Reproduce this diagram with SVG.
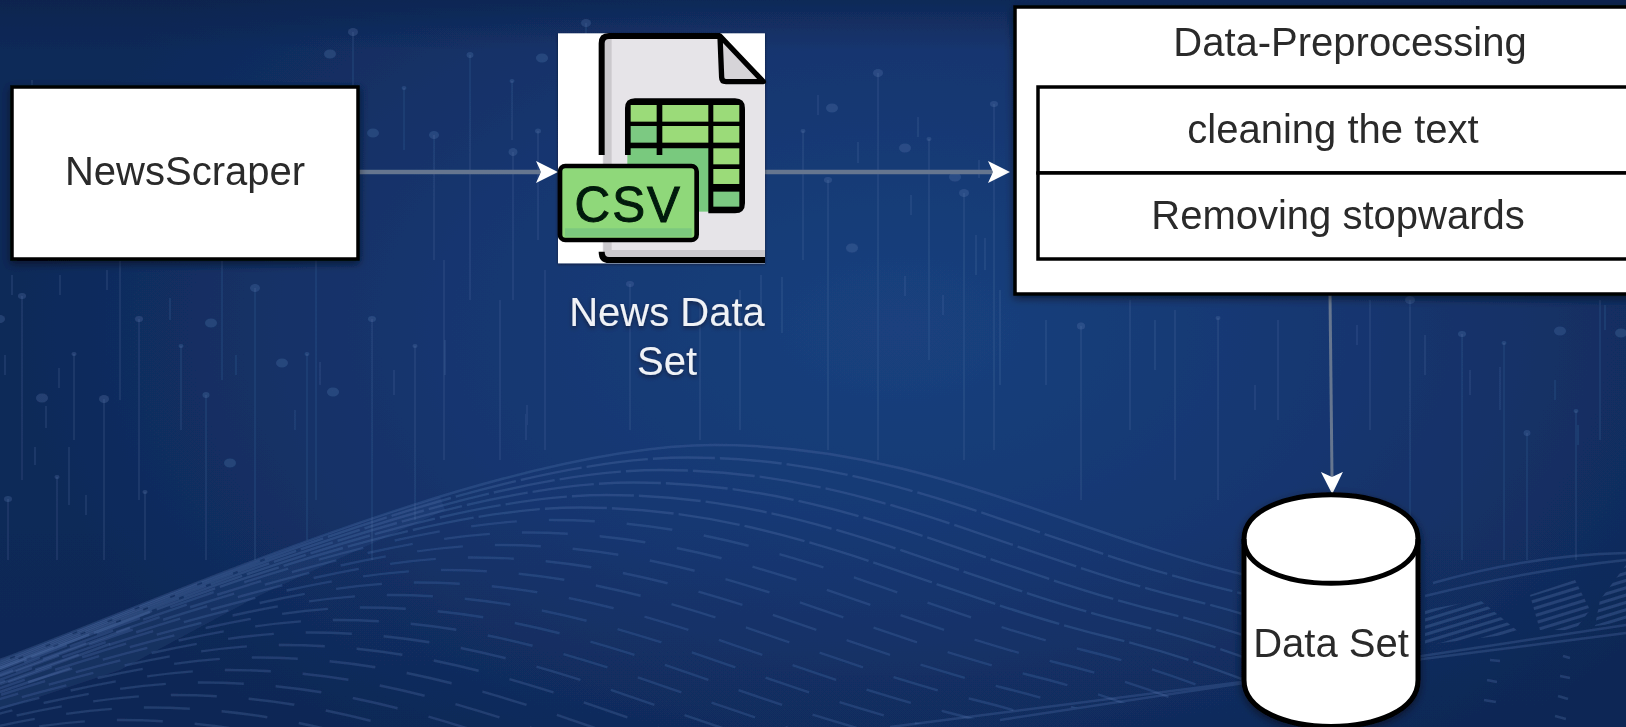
<svg xmlns="http://www.w3.org/2000/svg" width="1626" height="727" viewBox="0 0 1626 727">
<style>
text{font-family:"Liberation Sans",Arial,sans-serif;font-size:40px;fill:#2a2a2a;text-anchor:middle}
.light{fill:#f0f2f6;filter:url(#ts)}
.box{fill:#fff;stroke:#000;stroke-width:3.5}
.shadow{filter:url(#sh)}
.v{stroke:#5f7fb4;stroke-width:1.6;opacity:.2;fill:none}
.s{stroke:#5f7fb4;stroke-width:2;opacity:.16}
.dot{fill:#5f7fb4;opacity:.27}
.wa{fill:none;stroke:#5577b0;stroke-width:2.4;opacity:.3;stroke-dasharray:62 5}
.wb{fill:none;stroke:#5577b0;stroke-width:2.4;opacity:.27;stroke-dasharray:46 32}
.edge{fill:none;stroke:#5577b0;stroke-width:2.5;opacity:.28}
.conn{fill:none;stroke:#66768f;stroke-width:4.5;marker-end:url(#ah)}
</style>
<defs>
<radialGradient id="bg" gradientUnits="userSpaceOnUse" cx="900" cy="330" r="900" gradientTransform="translate(0 130) scale(1 .6)">
<stop offset="0" stop-color="#1a417e"/><stop offset=".5" stop-color="#163670"/><stop offset="1" stop-color="#0f2958"/>
</radialGradient>
<linearGradient id="topd" x1="0" y1="0" x2="0" y2="1"><stop offset="0" stop-color="#0b1f45" stop-opacity=".5"/><stop offset="1" stop-color="#0b1f45" stop-opacity="0"/></linearGradient>
<linearGradient id="botd" x1="0" y1="0" x2="0" y2="1"><stop offset="0" stop-color="#0b1f45" stop-opacity="0"/><stop offset="1" stop-color="#0b1f45" stop-opacity=".2"/></linearGradient>
<filter id="soft" filterUnits="userSpaceOnUse" x="0" y="0" width="1626" height="727"><feGaussianBlur stdDeviation=".6"/></filter>
<filter id="sh" x="-10%" y="-10%" width="120%" height="125%"><feDropShadow dx="0" dy="3" stdDeviation="4" flood-color="#000" flood-opacity=".5"/></filter>
<filter id="ts" x="-10%" y="-20%" width="120%" height="150%"><feDropShadow dx="0" dy="2" stdDeviation="2" flood-color="#000" flood-opacity=".45"/></filter>
<marker id="ah" markerUnits="userSpaceOnUse" markerWidth="24" markerHeight="26" viewBox="0 0 24 26" refX="5" refY="13" orient="auto"><path d="M0,2 L22,13 L0,24 L5,13Z" fill="#fff"/></marker>
<clipPath id="wc"><path d="M0,660 C150,605 500,445 715,445 C920,445 1060,530 1245,575 L1245,690 L890,727 L0,727Z"/></clipPath>
<pattern id="hatch" patternUnits="userSpaceOnUse" width="7" height="7" patternTransform="rotate(-17)"><rect width="7" height="3" fill="#5577b0" opacity=".45"/></pattern>
<path id="w" d="M-400,800 C-200,745 -100,695 0,660 C150,605 500,445 715,445 C920,445 1060,530 1245,575 S1500,690 1800,760"/>
</defs>
<g filter="url(#soft)">
<g id="background">
<rect width="1626" height="727" fill="url(#bg)"/>
<rect width="1626" height="50" fill="url(#topd)"/>
<rect y="520" width="1626" height="207" fill="url(#botd)"/>
<g class="lines">
<path class="v" d="M22,296V480M139,319V500M74,354V440M104,399V560M181,346V430M206,395V560M255,288V560M307,354V540M372,319V560M415,346V520M57,477V560M145,492V560M8,499V560M878,73V460M803,131V260M929,139V360M828,180V450M994,104V450M964,193V460M353,32V250M586,23V110M470,55V300M434,135V260M513,152V300M538,131V240M404,88V150M512,81V140M630,284V430M1081,326V500M1218,318V500M1410,300V530M1462,334V560M1504,343V560M1527,433V560M1576,411V560M32,80V250M120,260V400M222,260V380M316,260V500M444,260V460M500,300V460M545,270V450M700,300V440M740,290V430M1130,300V430M1175,310V480M1278,320V420M1370,300V430M1600,300V440"/>
<path class="s" d="M12,275V295M60,275V295M107,270V290M170,298V320M5,355V375M59,368V388M46,406V428M35,447V465M69,447V505M86,495V515M236,355V375M295,410V430M320,362V385M394,370V395M527,405V425M445,340V375M526,414V440M761,275V330M782,277V333M905,276V296M943,295V315M818,95V115M858,142V163M911,195V215M918,117V137M979,160V178M976,235V275M985,238V270M1000,290V385M1046,320V385M1155,320V370M1255,385V410M1357,325V345M1425,335V375M1470,370V395M1500,367V410M1555,380V400M1578,425V445M1605,305V330"/>
<g class="dot">
<ellipse cx="22" cy="296" rx="4" ry="3"/><ellipse cx="139" cy="319" rx="4" ry="3"/><ellipse cx="74" cy="354" rx="2.5" ry="2"/><ellipse cx="104" cy="399" rx="5" ry="4"/><ellipse cx="181" cy="346" rx="2.5" ry="2"/><ellipse cx="206" cy="395" rx="3.5" ry="3"/><ellipse cx="255" cy="288" rx="5" ry="4"/><ellipse cx="307" cy="354" rx="2.5" ry="2"/><ellipse cx="372" cy="319" rx="4" ry="3"/><ellipse cx="415" cy="346" rx="2.5" ry="2"/><ellipse cx="57" cy="477" rx="2.5" ry="2"/><ellipse cx="145" cy="492" rx="2.5" ry="2"/><ellipse cx="8" cy="499" rx="4" ry="3"/><ellipse cx="878" cy="73" rx="5" ry="4"/><ellipse cx="803" cy="131" rx="2.5" ry="2"/><ellipse cx="929" cy="139" rx="2.5" ry="2"/><ellipse cx="828" cy="180" rx="4" ry="3"/><ellipse cx="994" cy="104" rx="4" ry="3"/><ellipse cx="964" cy="193" rx="5" ry="4"/><ellipse cx="353" cy="32" rx="5" ry="4"/><ellipse cx="586" cy="23" rx="5" ry="4"/><ellipse cx="470" cy="55" rx="3.5" ry="3"/><ellipse cx="434" cy="135" rx="5" ry="4"/><ellipse cx="513" cy="152" rx="4.5" ry="4"/><ellipse cx="538" cy="131" rx="3" ry="2.5"/><ellipse cx="404" cy="88" rx="2.5" ry="2"/><ellipse cx="512" cy="81" rx="2.5" ry="2"/><ellipse cx="630" cy="284" rx="4" ry="3"/><ellipse cx="1081" cy="326" rx="4" ry="3.5"/><ellipse cx="1218" cy="318" rx="2.5" ry="2"/><ellipse cx="1410" cy="300" rx="5" ry="4"/><ellipse cx="1462" cy="334" rx="4" ry="3"/><ellipse cx="1504" cy="343" rx="2.5" ry="2"/><ellipse cx="1527" cy="433" rx="3.5" ry="3"/><ellipse cx="1576" cy="411" rx="2.5" ry="2"/>
<ellipse cx="211" cy="323" rx="6" ry="4.5"/><ellipse cx="42" cy="398" rx="6" ry="4.5"/><ellipse cx="282" cy="363" rx="6" ry="4.5"/><ellipse cx="333" cy="392" rx="6" ry="4.5"/><ellipse cx="230" cy="463" rx="6" ry="4.5"/><ellipse cx="0" cy="319" rx="5" ry="4"/><ellipse cx="832" cy="108" rx="6" ry="4.5"/><ellipse cx="905" cy="148" rx="6" ry="4.5"/><ellipse cx="955" cy="177" rx="6" ry="4.5"/><ellipse cx="852" cy="248" rx="6" ry="4.5"/><ellipse cx="330" cy="54" rx="6" ry="4.5"/><ellipse cx="542" cy="58" rx="6" ry="4.5"/><ellipse cx="373" cy="133" rx="6" ry="4.5"/><ellipse cx="1560" cy="331" rx="6" ry="4.5"/><ellipse cx="1621" cy="333" rx="6" ry="4.5"/>
</g>
</g>
<g id="wave">
<path class="edge" d="M0,660 C150,605 500,445 715,445 C920,445 1060,530 1245,575"/>
<g clip-path="url(#wc)">
<path d="M0,640 L250,540 L430,470 L445,510 L260,595 L120,670 L0,710Z" fill="#5577b0" opacity=".13"/>
<use href="#w" class="wa" transform="translate(-27 12.5)"/><use href="#w" class="wa" transform="translate(-54 25)"/><use href="#w" class="wa" transform="translate(-81 37.5)"/><use href="#w" class="wa" transform="translate(-108 50)"/><use href="#w" class="wa" transform="translate(-135 62.5)"/><use href="#w" class="wb" transform="translate(-162 75)"/><use href="#w" class="wb" transform="translate(-189 87.5)"/><use href="#w" class="wb" transform="translate(-216 100)"/><use href="#w" class="wb" transform="translate(-243 112.5)"/><use href="#w" class="wb" transform="translate(-270 125)"/><use href="#w" class="wb" transform="translate(-297 137.5)"/><use href="#w" class="wb" transform="translate(-324 150)"/><use href="#w" class="wb" transform="translate(-351 162.5)"/><use href="#w" class="wb" transform="translate(-378 175)"/><use href="#w" class="wb" transform="translate(-405 187.5)"/><use href="#w" class="wb" transform="translate(-432 200)"/><use href="#w" class="wb" transform="translate(-459 212.5)"/><use href="#w" class="wb" transform="translate(-486 225)"/><use href="#w" class="wb" transform="translate(-513 237.5)"/><use href="#w" class="wb" transform="translate(-540 250)"/><use href="#w" class="wb" transform="translate(-567 262.5)"/><use href="#w" class="wb" transform="translate(-594 275)"/>
</g>
<path class="edge" d="M0,668 L150,612M0,676 L130,628M0,684 L110,644M0,692 L70,668M890,727 L1626,633M1000,720 L1626,625M1433,583 Q1530,555 1626,553M1425,596 Q1530,570 1626,560"/>
<path d="M1425,610 L1480,600 L1520,633 L1425,645Z M1530,595 L1575,580 L1590,610 L1575,630 L1540,630Z M1600,600 L1626,565 L1626,622 L1595,626Z" fill="url(#hatch)" opacity=".7"/>
<path class="edge" stroke-dasharray="12 14" d="M1490,660L1500,661M1487,680L1497,682M1484,700L1496,702M1563,656L1570,658M1560,676L1570,678M1558,696L1568,699M1555,716L1566,719"/>
</g>
</g>
<g id="connectors">
<path class="conn" d="M358,172H541"/>
<path class="conn" d="M765,172H993"/>
<path class="conn" style="stroke-width:3" d="M1330,294L1332,477"/>
</g>
<g id="news-scraper" class="shadow"><rect class="box" x="12" y="87" width="346" height="172"/><text x="185" y="185">NewsScraper</text></g>
<g id="news-data-set">
<g class="shadow" transform="translate(540 20) scale(.3333)">
<rect x="54" y="40" width="621" height="690" fill="#fff"/>
<path d="M188,50H540L675,185V722H188Z" fill="#e6e4e8"/>
<path d="M190,50H215V722H190ZM190,690H675V712H190Z" fill="#cbc9cd"/>
<path d="M540,48L670,185H558Q545,185 545,172Z" fill="#d6d4d8" stroke="#000" stroke-width="16" stroke-linejoin="round"/>
<path d="M185,405V70Q185,48 207,48H540M185,695Q185,720 207,720H675" fill="none" stroke="#000" stroke-width="18"/>
<rect x="262" y="380" width="248" height="195" fill="#79c97e"/>
<path d="M255,405V265Q255,235 285,235H585Q615,235 615,265V550Q615,580 585,580H505V385H367V405H350V385H272V405Z" fill="#000"/>
<g fill="#9bdb79"><rect x="272" y="255" width="78" height="50"/><rect x="367" y="255" width="138" height="50"/><rect x="520" y="255" width="78" height="50"/><rect x="272" y="318" width="78" height="50" fill="#7cc982"/><rect x="367" y="318" width="138" height="50"/><rect x="520" y="318" width="78" height="50"/><rect x="520" y="385" width="78" height="48"/><rect x="520" y="447" width="78" height="45"/><rect x="520" y="515" width="78" height="45" fill="#7cc982"/></g>
<rect x="60" y="438" width="410" height="222" rx="16" fill="#8fd87a" stroke="#000" stroke-width="14"/>
<rect x="75" y="625" width="380" height="25" fill="#7cc97e"/>
<text x="265" y="605" style="font-size:148px;fill:#041a08;stroke:#041a08;stroke-width:3;letter-spacing:6px">CSV</text>
</g>
<text class="light" x="667" y="326">News Data</text><text class="light" x="667" y="375">Set</text>
</g>
<g id="data-preprocessing">
<rect class="box shadow" x="1015" y="7" width="640" height="287"/>
<text x="1350" y="56">Data-Preprocessing</text>
<g id="cleaning-the-text"><rect class="box" x="1038" y="87" width="640" height="86"/><text x="1333" y="143">cleaning the text</text></g>
<g id="removing-stopwards"><rect class="box" x="1038" y="173" width="640" height="86"/><text x="1338" y="229">Removing stopwards</text></g>
</g>
<g id="data-set">
<path class="shadow" d="M1244,539C1244,480 1418,480 1418,539V680C1418,742 1244,742 1244,680Z" fill="#fff" stroke="#000" stroke-width="5"/>
<path d="M1244,539C1244,598 1418,598 1418,539" fill="none" stroke="#000" stroke-width="5"/>
<text x="1331" y="657">Data Set</text>
</g>
</g>
</svg>
